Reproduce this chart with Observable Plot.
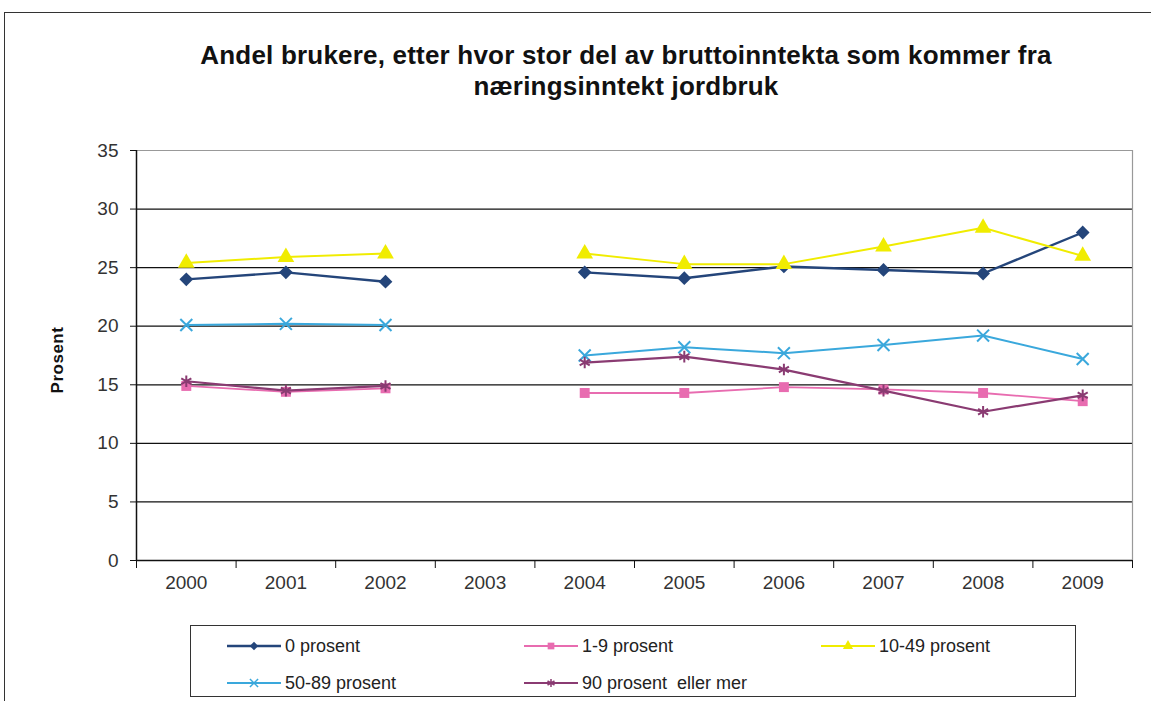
<!DOCTYPE html>
<html>
<head>
<meta charset="utf-8">
<script src="https://cdn.jsdelivr.net/npm/d3@7"></script>
<script src="https://cdn.jsdelivr.net/npm/@observablehq/plot@0.6"></script>
<style>
  body { margin: 0; background: #fff; }
  #wrap { position: relative; width: 1151px; height: 701px; overflow: hidden; font-family: "Liberation Sans", Arial, sans-serif; color: #222; }
  #frame { position: absolute; left: 4px; top: 12px; width: 1160px; height: 720px; border-left: 1.5px solid #333; border-top: 1.5px solid #333; box-sizing: border-box; }
  #chart { position: absolute; left: 0; top: 0; }
  #title { position: absolute; left: 0; top: 40px; width: 1252px; text-align: center; font-weight: bold; font-size: 26px; letter-spacing: 0.2px; line-height: 31px; color: #111; }
  #ylabel { position: absolute; left: 58px; top: 360px; transform: translate(-50%, -50%) rotate(-90deg); font-weight: bold; font-size: 17px; letter-spacing: 0.5px; white-space: nowrap; color: #111; }
  #legend { position: absolute; left: 190px; top: 625px; width: 886px; height: 72px; border: 1.5px solid #333; box-sizing: border-box; }
  .entry { position: absolute; display: flex; align-items: center; height: 22px; font-size: 18px; color: #222; white-space: nowrap; }
  .entry svg { margin-right: 3px; }
</style>
</head>
<body>
<div id="wrap">
  <div id="frame"></div>
  <div id="chart"></div>
  <div id="title">Andel brukere, etter hvor stor del av bruttoinntekta som kommer fra<br>næringsinntekt jordbruk</div>
  <div id="ylabel">Prosent</div>
  <div id="legend"></div>
</div>
<script>
// ---- data ----
const years = [2000, 2001, 2002, 2003, 2004, 2005, 2006, 2007, 2008, 2009];
const seriesNames = ["0 prosent", "1-9 prosent", "10-49 prosent", "50-89 prosent", "90 prosent  eller mer"];
const p0    = [24.0, 24.6, 23.8, null, 24.6, 24.1, 25.1, 24.8, 24.5, 28.0];
const p1_9  = [14.9, 14.4, 14.7, null, 14.3, 14.3, 14.8, 14.6, 14.3, 13.6];
const p10_49 = [25.4, 25.9, 26.2, null, 26.2, 25.3, 25.3, 26.8, 28.4, 26.0];
const p50_89 = [20.1, 20.2, 20.1, null, 17.5, 18.2, 17.7, 18.4, 19.2, 17.2];
const p90   = [15.3, 14.5, 14.9, null, 16.9, 17.4, 16.3, 14.5, 12.7, 14.1];
const yTicks = [0, 5, 10, 15, 20, 25, 30, 35];

// ---- style ----
const colors = ["#24457a", "#e86cb0", "#f0ec00", "#3aa8dc", "#8a3b72"];
const symbols = ["diamond2", "square", "triangle", "times", "asterisk"];
const filled = [true, true, true, false, false];
const radii = [6.2, 5.6, 6.2, 5.5, 5.5];
const widths = [2.4, 1.8, 2.0, 2.0, 2.2];

const valuesList = [p0, p1_9, p10_49, p50_89, p90];
const table = seriesNames.map((name, i) => years.map((yr, j) => ({series: name, year: yr, value: valuesList[i][j]})));
const boundaries = years.map(y => y - 0.5).concat([years[years.length - 1] + 0.5]);
const xDomain = [boundaries[0], boundaries[boundaries.length - 1]];

const marks = [
  Plot.ruleY(yTicks.slice(1, -1), {stroke: "#111", strokeWidth: 1.3}),
  Plot.ruleY([yTicks[yTicks.length - 1]], {stroke: "#999", strokeWidth: 1.2}),
  Plot.ruleX([xDomain[1]], {stroke: "#999", strokeWidth: 1.2}),
  Plot.axisY({ticks: yTicks, tickSize: 6, tickPadding: 12, label: null, fill: "#333", stroke: "#111"}),
  Plot.axisX({ticks: years, tickSize: 0, tickPadding: 15, tickFormat: d => String(d), label: null, fill: "#333"}),
  Plot.axisX({ticks: boundaries, tickSize: 8, tickFormat: () => "", label: null, stroke: "#111"}),
  Plot.ruleY([0], {stroke: "#111", strokeWidth: 1.5}),
  Plot.ruleX([xDomain[0]], {stroke: "#111", strokeWidth: 1.5})
];
table.forEach((rows, i) => {
  marks.push(Plot.line(rows, {x: "year", y: "value", stroke: colors[i], strokeWidth: widths[i]}));
  const defined = rows.filter(d => d.value != null);
  if (filled[i]) {
    marks.push(Plot.dot(defined, {x: "year", y: "value", symbol: () => symbols[i], fill: colors[i], r: radii[i], stroke: "none"}));
  } else {
    marks.push(Plot.dot(defined, {x: "year", y: "value", symbol: () => symbols[i], stroke: colors[i], strokeWidth: 2, r: radii[i], fill: "none"}));
  }
});

const chart = Plot.plot({
  width: 1151,
  height: 701,
  marginTop: 150,
  marginBottom: 141,
  marginLeft: 136,
  marginRight: 19,
  style: {fontFamily: "'Liberation Sans', Arial, sans-serif", fontSize: "19px", background: "transparent", overflow: "visible"},
  x: {type: "linear", domain: xDomain},
  y: {domain: [yTicks[0], yTicks[yTicks.length - 1]]},
  symbol: {type: "identity"},
  marks
});
document.getElementById("chart").appendChild(chart);

// ---- legend ----
const legendPos = [
  {sx: 36, row: 0}, {sx: 333, row: 0}, {sx: 630, row: 0},
  {sx: 36, row: 1}, {sx: 333, row: 1}
];
const legend = d3.select("#legend");
seriesNames.forEach((name, i) => {
  const e = legend.append("div").attr("class", "entry")
    .style("left", legendPos[i].sx + "px")
    .style("top", (legendPos[i].row === 0 ? 9 : 46) + "px");
  const s = e.append("svg").attr("width", 55).attr("height", 22);
  s.append("line").attr("x1", 0).attr("x2", 54).attr("y1", 11).attr("y2", 11)
    .attr("stroke", colors[i]).attr("stroke-width", widths[i]);
  const symMap = {diamond2: d3.symbolDiamond2, square: d3.symbolSquare, triangle: d3.symbolTriangle, times: d3.symbolTimes, asterisk: d3.symbolAsterisk};
  const path = s.append("path").attr("transform", "translate(27,11)")
    .attr("d", d3.symbol(symMap[symbols[i]], 45)());
  if (filled[i]) path.attr("fill", colors[i]);
  else path.attr("fill", "none").attr("stroke", colors[i]).attr("stroke-width", 1.5);
  e.append("span").style("white-space", "pre").text(name);
});
</script>
</body>
</html>
